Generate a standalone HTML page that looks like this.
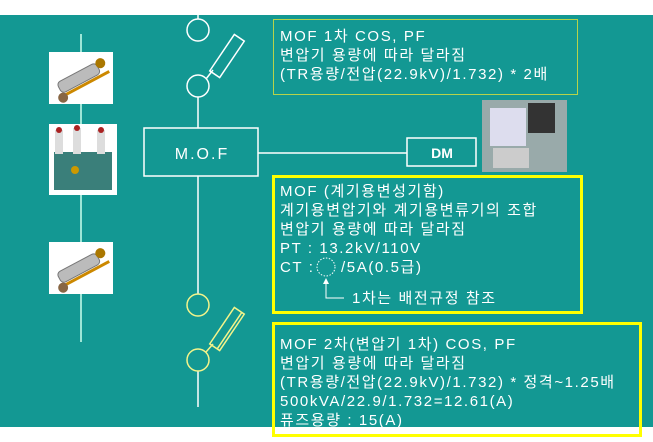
<!DOCTYPE html>
<html><head><meta charset="utf-8"><style>
html,body{margin:0;padding:0;background:#fff;}
svg{display:block}
text{font-family:"Liberation Sans","Noto Sans CJK KR","NanumGothic",sans-serif;fill:#fff;font-size:15px;letter-spacing:1.6px;}
</style></head><body>
<svg width="653" height="442" viewBox="0 0 653 442">
<rect x="0" y="15" width="653" height="412" fill="#139893"/>
<line x1="81" y1="34" x2="81" y2="342" stroke="#cfe" stroke-width="1.5"/>
<rect x="49" y="52" width="64" height="52" fill="#fff"/>
<g transform="translate(81,78) rotate(-28)">
<rect x="-24" y="-7" width="44" height="12" rx="4" fill="#bbb" stroke="#777"/>
<rect x="-28" y="6" width="56" height="3" fill="#c80"/>
<circle cx="24" cy="-4" r="5" fill="#a70"/>
<circle cx="-25" cy="9" r="5" fill="#864"/>
</g>
<rect x="49" y="124" width="68" height="71" fill="#fff"/>
<rect x="54" y="152" width="58" height="38" fill="#3a7f7a"/>
<rect x="55" y="130" width="8" height="24" fill="#ddd"/><rect x="73" y="128" width="8" height="26" fill="#ddd"/><rect x="97" y="130" width="8" height="24" fill="#ddd"/>
<circle cx="59" cy="130" r="3" fill="#a22"/><circle cx="77" cy="128" r="3" fill="#a22"/><circle cx="101" cy="130" r="3" fill="#a22"/>
<circle cx="75" cy="170" r="4" fill="#c90"/>
<rect x="49" y="242" width="64" height="52" fill="#fff"/>
<g transform="translate(81,268) rotate(-28)">
<rect x="-24" y="-7" width="44" height="12" rx="4" fill="#bbb" stroke="#777"/>
<rect x="-28" y="6" width="56" height="3" fill="#c80"/>
<circle cx="24" cy="-4" r="5" fill="#a70"/>
<circle cx="-25" cy="9" r="5" fill="#864"/>
</g>
<g stroke="#fff" stroke-width="1.5" fill="none">
<line x1="198" y1="15" x2="198" y2="19"/>
<circle cx="198" cy="30" r="11"/>
<circle cx="198" cy="86" r="11"/>
<line x1="198" y1="97" x2="198" y2="128"/>
<rect x="144" y="128" width="114" height="48"/>
<line x1="198" y1="176" x2="198" y2="294"/>
<line x1="258" y1="153" x2="407" y2="153"/>
<rect x="407" y="138" width="69" height="28"/>
<line x1="206" y1="79" x2="213" y2="70"/>
<g transform="translate(227,56) rotate(34)"><rect x="-6" y="-22" width="12" height="44"/></g>
<line x1="198" y1="371" x2="198" y2="407"/>
</g>
<g stroke="#f4f48a" stroke-width="1.5" fill="none">
<circle cx="198" cy="305" r="11"/>
<circle cx="198" cy="360" r="11"/>
<line x1="206" y1="352" x2="213" y2="344"/>
<g transform="translate(227,329) rotate(34)"><rect x="-6" y="-22" width="12" height="44"/><line x1="3" y1="-22" x2="3" y2="22"/></g>
</g>
<text x="202" y="159" text-anchor="middle" style="font-size:16px;letter-spacing:2px">M.O.F</text>
<text x="442" y="158" text-anchor="middle" style="font-weight:bold;font-size:14px;letter-spacing:0">DM</text>
<rect x="482" y="100" width="85" height="72" fill="#9aa"/>
<rect x="490" y="108" width="36" height="38" fill="#dde"/>
<rect x="528" y="103" width="27" height="30" fill="#333"/>
<rect x="493" y="148" width="36" height="20" fill="#ccc"/>
<rect x="273.5" y="19.5" width="304" height="75" fill="none" stroke="#b6d34a" stroke-width="1"/>
<text x="280" y="41">MOF 1차 COS, PF</text>
<text x="280" y="60">변압기 용량에 따라 달라짐</text>
<text x="280" y="79">(TR용량/전압(22.9kV)/1.732) * 2배</text>
<rect x="273.5" y="176.5" width="308" height="136" fill="none" stroke="#ffff00" stroke-width="3"/>
<text x="280" y="196">MOF (계기용변성기함)</text>
<text x="280" y="215">계기용변압기와 계기용변류기의 조합</text>
<text x="280" y="234">변압기 용량에 따라 달라짐</text>
<text x="280" y="253">PT : 13.2kV/110V</text>
<text x="280" y="272">CT :</text>
<circle cx="326" cy="267" r="9" fill="none" stroke="#fff" stroke-dasharray="1.5 1.5"/>
<text x="341" y="272">/5A(0.5급)</text>
<polyline points="326,283 326,298 344,298" fill="none" stroke="#fff" stroke-width="1"/>
<polygon points="323,284 329,284 326,278" fill="#fff"/>
<text x="352" y="303">1차는 배전규정 참조</text>
<rect x="273.5" y="323.5" width="367" height="112" fill="none" stroke="#ffff00" stroke-width="3"/>
<text x="280" y="349">MOF 2차(변압기 1차) COS, PF</text>
<text x="280" y="368">변압기 용량에 따라 달라짐</text>
<text x="280" y="387">(TR용량/전압(22.9kV)/1.732) * 정격~1.25배</text>
<text x="280" y="406">500kVA/22.9/1.732=12.61(A)</text>
<text x="280" y="425">퓨즈용량 : 15(A)</text>
</svg>
</body></html>
